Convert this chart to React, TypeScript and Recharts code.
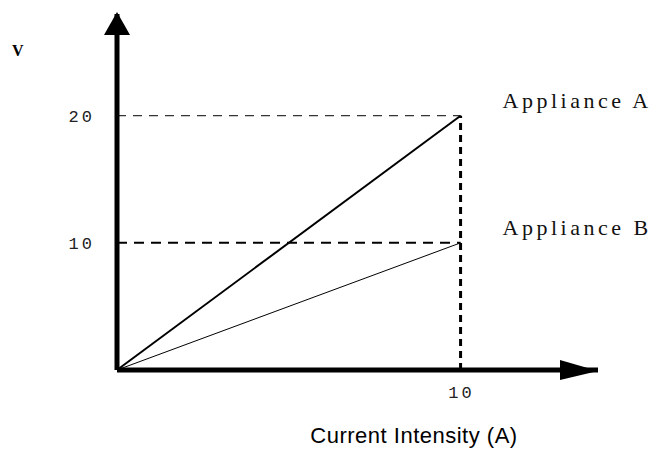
import {
  LineChart,
  Line,
  XAxis,
  YAxis,
  ReferenceLine,
  ReferenceDot,
} from "recharts";

// current (A) and voltage (V) for each appliance
const current = [0, 10];
const voltageA = [0, 20];
const voltageB = [0, 10];
const xTicks = [10];
const yTicks = [10, 20];
const labelA = "Appliance A";
const labelB = "Appliance B";

const data = current.map((c, i) => ({ c, a: voltageA[i], b: voltageB[i] }));

const tickFont = "'Liberation Mono', monospace";
const serif = "'Liberation Serif', serif";

function YTick(props: any) {
  const { x, y, payload } = props;
  return (
    <text x={x - 14} y={y + 6} textAnchor="end" fontFamily={tickFont} fontSize={17} letterSpacing={3} fill="#222">
      {payload.value}
    </text>
  );
}

function XTick(props: any) {
  const { x, y, payload } = props;
  return (
    <text x={x + 1} y={y + 20} textAnchor="middle" fontFamily={tickFont} fontSize={17} letterSpacing={3} fill="#222">
      {payload.value}
    </text>
  );
}

const upArrow = (p: any) => (
  <polygon points={`${p.cx - 13},${p.cy + 21} ${p.cx + 13},${p.cy + 21} ${p.cx},${p.cy - 2}`} fill="#000" />
);
const rightArrow = (p: any) => (
  <polygon points={`${p.cx - 38},${p.cy - 10} ${p.cx - 38},${p.cy + 10} ${p.cx},${p.cy + 1}`} fill="#000" />
);
const tagShape = (text: string) => (p: any) => (
  <text x={p.cx + 42} y={p.cy - 8} fontFamily={serif} fontSize={22} letterSpacing={3.5} fill="#111">
    {text}
  </text>
);

export default function App() {
  return (
    <div style={{ position: "absolute", left: 0, top: 0, background: "#fff" }}>
      <LineChart
        width={660}
        height={452}
        data={data}
        margin={{ top: 14, right: 62, bottom: 42, left: 57 }}
      >
        <XAxis
          dataKey="c"
          type="number"
          domain={[0, 14]}
          ticks={xTicks}
          tick={<XTick />}
          tickLine={false}
          axisLine={{ stroke: "#000", strokeWidth: 5 }}
          height={40}
        />
        <YAxis
          type="number"
          domain={[0, 28]}
          ticks={yTicks}
          tick={<YTick />}
          tickLine={false}
          axisLine={{ stroke: "#000", strokeWidth: 5 }}
          width={60}
        />
        <ReferenceLine
          segment={[{ x: 0, y: 20 }, { x: 10, y: 20 }]}
          stroke="#000"
          strokeWidth={1}
          strokeDasharray="9 7"
        />
        <ReferenceLine
          segment={[{ x: 0, y: 10 }, { x: 10, y: 10 }]}
          stroke="#000"
          strokeWidth={2}
          strokeDasharray="10 7"
        />
        <ReferenceLine
          segment={[{ x: 10, y: 0 }, { x: 10, y: 20 }]}
          stroke="#000"
          strokeWidth={3}
          strokeDasharray="7 5"
        />
        <Line dataKey="a" stroke="#000" strokeWidth={2} dot={false} isAnimationActive={false} />
        <Line dataKey="b" stroke="#000" strokeWidth={1} dot={false} isAnimationActive={false} />
        <ReferenceDot x={0} y={28} ifOverflow="visible" shape={upArrow} />
        <ReferenceDot x={14} y={0} ifOverflow="visible" shape={rightArrow} />
        <ReferenceDot x={10} y={20} ifOverflow="visible" shape={tagShape(labelA)} />
        <ReferenceDot x={10} y={10} ifOverflow="visible" shape={tagShape(labelB)} />
        <text x={12} y={56} fontFamily={serif} fontWeight="bold" fontSize={16} fill="#000">
          V
        </text>
        <text x={414} y={443} textAnchor="middle" fontFamily="'Liberation Sans', Arial, sans-serif" fontSize={22} letterSpacing={0.5} fill="#000">
          Current Intensity (A)
        </text>
      </LineChart>
    </div>
  );
}
